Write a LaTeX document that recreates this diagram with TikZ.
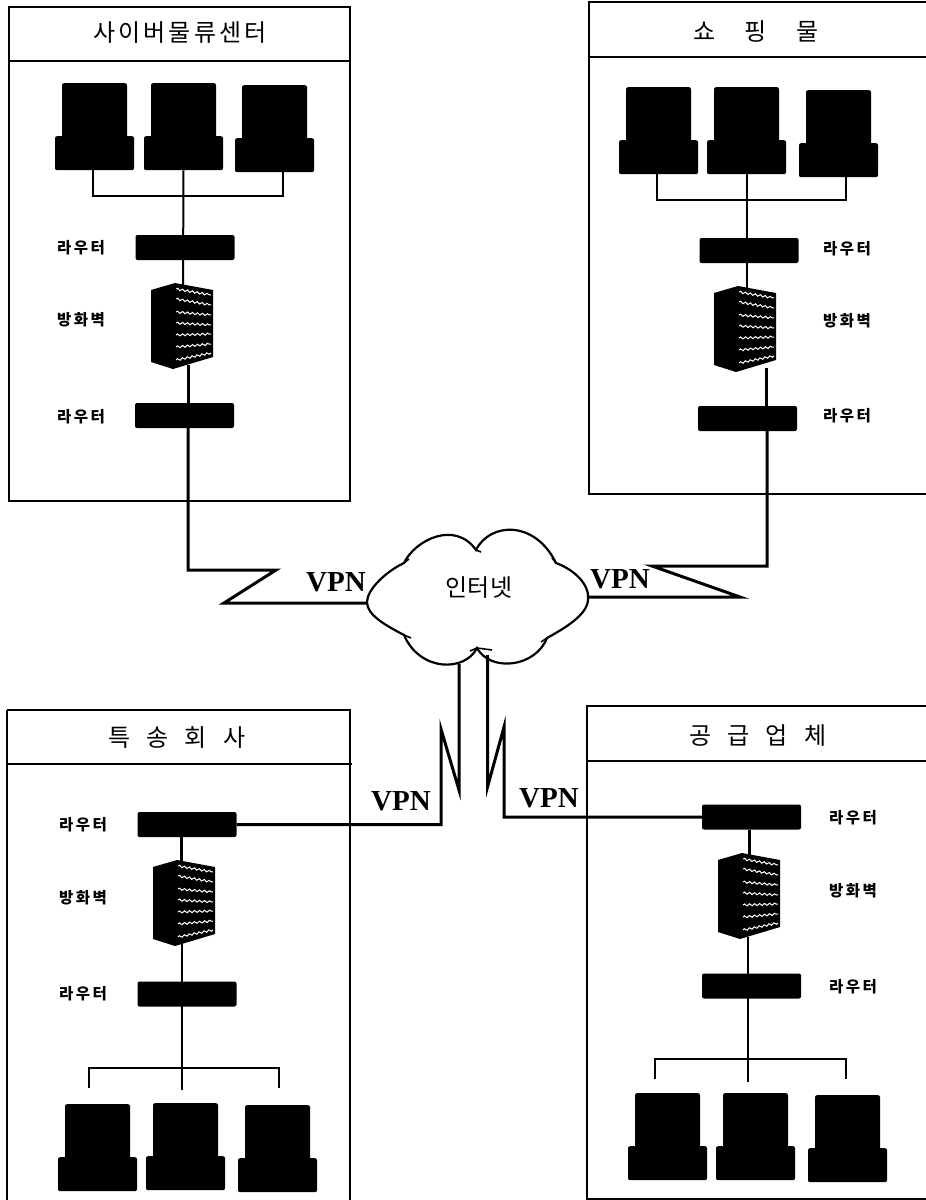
\documentclass[tikz,border=0pt]{standalone}
\usepackage{fontspec}
\setmainfont{Noto Sans CJK KR}
\newfontfamily\vpnfont{Liberation Serif}
\usetikzlibrary{decorations.pathmorphing}

\tikzset{
    panelline/.style={line width=1.2pt},
    busline/.style={line width=1.3pt},
    connline/.style={line width=2pt},
    vpnline/.style={line width=3pt, line join=miter, miter limit=20},
    routerbox/.style={fill=black, rounded corners=2pt, minimum width=99pt, minimum height=25pt, inner sep=0pt},
    serverbody/.style={fill=black, rounded corners=2pt, minimum width=65pt, minimum height=56pt, inner sep=0pt},
    serverbase/.style={fill=black, rounded corners=2pt, minimum width=79pt, minimum height=34pt, inner sep=0pt},
    titlelabel/.style={font=\fontsize{24}{28}\selectfont},
    sidelabel/.style={font=\fontsize{15.5}{18}\selectfont\bfseries},
    vpnlabel/.style={font=\fontsize{29}{32}\selectfont\vpnfont\bfseries},
    waveline/.style={white, line width=1pt, decorate, decoration={snake, amplitude=1pt, segment length=5pt}}
}

% server: name, centre x, top y
\newcommand{\serverset}[3]{
    \node[serverbody, anchor=north] (#1t) at (#2,#3) {};
    \node[serverbase, anchor=north] (#1) at (#2,#3+53) {};
}
% firewall: name, left x, top y
\newcommand{\firewall}[3]{
    \begin{scope}[shift={(#2,#3)}]
        \fill (0,7) -- (24,0) -- (62,7) -- (62,74) -- (22,86) -- (0,79) -- cycle;
        \foreach \ya/\yb in {6/12,16/22,29/32,40/42,52/51,64/61,77/70}
            \draw[waveline] (25,\ya) -- (60,\yb);
        \coordinate (#1) at (31,43);
    \end{scope}
}

\begin{document}
\begin{tikzpicture}[x=1pt, y=-1pt]
    \useasboundingbox (0,0) rectangle (926,1200);

    % Panel A
    \draw[panelline] (9,7) rectangle (350,501);
    \draw[panelline] (9,61) -- (350,61);
    \node[titlelabel] (titleA) at (180,33) {사\hspace{3pt}이\hspace{3pt}버\hspace{3pt}물\hspace{3pt}류\hspace{3pt}센\hspace{3pt}터};
    \serverset{sA1}{94.5}{83}
    \serverset{sA2}{183.5}{83}
    \serverset{sA3}{274.5}{85}
    \coordinate (busAl) at (93,196);
    \coordinate (busAr) at (283,196);
    \draw[busline] (busAl |- sA1.south) -- (busAl) -- (busAr) -- (busAr |- sA3.south);
    \node[routerbox] (rA1) at (185,247.5) {};
    \node[routerbox] (rA2) at (184.5,415.5) {};
    \firewall{fwA}{151}{283}
    \coordinate (fwAin) at (183,285);
    \coordinate (fwAout) at (188,365);
    \draw[connline] (sA2.south) -- (fwAin);
    \draw[vpnline] (fwAout) -- (fwAout |- rA2.north);
    \node[sidelabel] (labA1) at (81,248) {라\,우\,터};
    \node[sidelabel] (labA2) at (81,320) {방\,화\,벽};
    \node[sidelabel] (labA3) at (81,417) {라\,우\,터};

    % Panel B
    \draw[panelline] (926,2) -- (589,2) -- (589,494) -- (926,494);
    \draw[panelline] (589,57) -- (926,57);
    \node[titlelabel] (titleB) at (756,31) {쇼\hspace{29pt}핑\hspace{29pt}물};
    \serverset{sB1}{658.5}{87}
    \serverset{sB2}{746.5}{87}
    \serverset{sB3}{838.5}{90}
    \coordinate (busBl) at (657,200);
    \coordinate (busBr) at (846,200);
    \draw[busline] (busBl |- sB1.south) -- (busBl) -- (busBr) -- (busBr |- sB3.south);
    \node[routerbox] (rB1) at (749,250.5) {};
    \node[routerbox] (rB2) at (747.5,418.5) {};
    \firewall{fwB}{714}{286}
    \coordinate (fwBin) at (746.5,288);
    \coordinate (fwBout) at (766.5,368);
    \draw[connline] (sB2.south) -- (fwBin);
    \draw[vpnline] (fwBout) -- (fwBout |- rB2.north);
    \node[sidelabel] (labB1) at (847,249) {라\,우\,터};
    \node[sidelabel] (labB2) at (847,321) {방\,화\,벽};
    \node[sidelabel] (labB3) at (847,416) {라\,우\,터};

    % Panel C
    \draw[panelline] (7,710) -- (350,710) -- (350,1200);
    \draw[panelline] (7,710) -- (7,1200);
    \draw[panelline] (7,764) -- (352,764);
    \node[titlelabel] (titleC) at (177,738) {특\hspace{16pt}송\hspace{16pt}회\hspace{16pt}사};
    \node[routerbox] (rC1) at (187,824.5) {};
    \node[routerbox] (rC2) at (187,994) {};
    \firewall{fwC}{153}{860}
    \coordinate (fwCin) at (181,862);
    \coordinate (fwCout) at (182,944);
    \draw[vpnline] (rC1.south -| fwCin) -- (fwCin);
    \coordinate (busCl) at (89,1068);
    \coordinate (busCr) at (279,1068);
    \coordinate (busCm) at (182,1090);
    \coordinate (dropCl) at (89,1088);
    \coordinate (dropCr) at (279,1088);
    \draw[busline] (dropCl) -- (busCl) -- (busCr) -- (dropCr);
    \draw[connline] (fwCout) -- (busCm);
    \serverset{sC1}{97.5}{1104}
    \serverset{sC2}{185.5}{1103}
    \serverset{sC3}{277.5}{1105}
    \node[sidelabel] (labC1) at (83,825) {라\,우\,터};
    \node[sidelabel] (labC2) at (83,898) {방\,화\,벽};
    \node[sidelabel] (labC3) at (83,994) {라\,우\,터};

    % Panel D
    \draw[panelline] (926,706) -- (587,706) -- (587,1199) -- (926,1199);
    \draw[panelline] (587,761) -- (926,761);
    \node[titlelabel] (titleD) at (758,736) {공\hspace{16pt}급\hspace{16pt}업\hspace{16pt}체};
    \node[routerbox] (rD1) at (751.5,817) {};
    \node[routerbox] (rD2) at (751.5,986) {};
    \firewall{fwD}{718}{853}
    \coordinate (fwDin) at (749,855);
    \coordinate (fwDout) at (747.5,937);
    \draw[vpnline] (rD1.south -| fwDin) -- (fwDin);
    \coordinate (busDl) at (655,1059);
    \coordinate (busDr) at (846,1059);
    \coordinate (busDm) at (747.5,1082);
    \coordinate (dropDl) at (655,1079);
    \coordinate (dropDr) at (846,1079);
    \draw[busline] (dropDl) -- (busDl) -- (busDr) -- (dropDr);
    \draw[connline] (fwDout) -- (busDm);
    \serverset{sD1}{667.5}{1093}
    \serverset{sD2}{755.5}{1093}
    \serverset{sD3}{847.5}{1095}
    \node[sidelabel] (labD1) at (853,818) {라\,우\,터};
    \node[sidelabel] (labD2) at (853,891) {방\,화\,벽};
    \node[sidelabel] (labD3) at (853,987) {라\,우\,터};

    % Cloud
    \draw[line width=2.2pt, fill=white] (404,563)
        .. controls (415,540) and (455,520) .. (476,550)
        .. controls (490,522) and (535,520) .. (556,563)
        .. controls (575,570) and (590,585) .. (588,600)
        .. controls (587,615) and (565,628) .. (547,638)
        .. controls (535,668) and (490,672) .. (477,648)
        .. controls (465,672) and (420,672) .. (404,635)
        .. controls (385,625) and (367,615) .. (367,602)
        .. controls (367,590) and (385,572) .. (404,563) -- cycle;
    \foreach \tipa/\tipb in {476/550/481/552, 404/563/408/559, 556/563/552/558, 547/638/541/642, 477/648/470/651, 477/648/492/650, 404/635/411/638}{}
    \draw[line width=1.6pt] (476,550) -- (481,552);
    \draw[line width=1.6pt] (404,563) -- (409,559);
    \draw[line width=1.6pt] (556,563) -- (552,558);
    \draw[line width=1.6pt] (547,638) -- (541,642);
    \draw[line width=1.6pt] (470,651) -- (477,648) -- (492,650);
    \draw[line width=1.6pt] (404,635) -- (411,638);
    \node[font=\fontsize{24}{28}\selectfont] (cloud) at (479,588) {인터넷};
    \coordinate (cloudW) at (367,603);
    \coordinate (cloudE) at (588,597);
    \coordinate (cloudSl) at (459,664);
    \coordinate (cloudSr) at (487.5,655);

    % VPN links
    \coordinate (zagA1) at (276,570);
    \coordinate (zagA2) at (224,603);
    \draw[vpnline] (rA2.south -| fwAout) |- (zagA1) -- (zagA2) -- (cloudW);
    \coordinate (zagB1) at (740,597);
    \coordinate (zagB2) at (652,566);
    \draw[vpnline] (cloudE) -- (zagB1) -- (zagB2) -- (767,566) -- (rB2.south -| 767,0);
    \coordinate (zagC1) at (459,790);
    \coordinate (zagC2) at (441,729);
    \draw[vpnline] (cloudSl) -- (zagC1) -- (zagC2) |- (rC1.east);
    \coordinate (zagD1) at (487.5,787);
    \coordinate (zagD2) at (504,727);
    \draw[vpnline] (cloudSr) -- (zagD1) -- (zagD2) |- (rD1.west);
    \node[vpnlabel] (vpnA) at (336,582) {VPN};
    \node[vpnlabel] (vpnB) at (620,579) {VPN};
    \node[vpnlabel] (vpnC) at (401,801) {VPN};
    \node[vpnlabel] (vpnD) at (549,798) {VPN};
\end{tikzpicture}
\end{document}
